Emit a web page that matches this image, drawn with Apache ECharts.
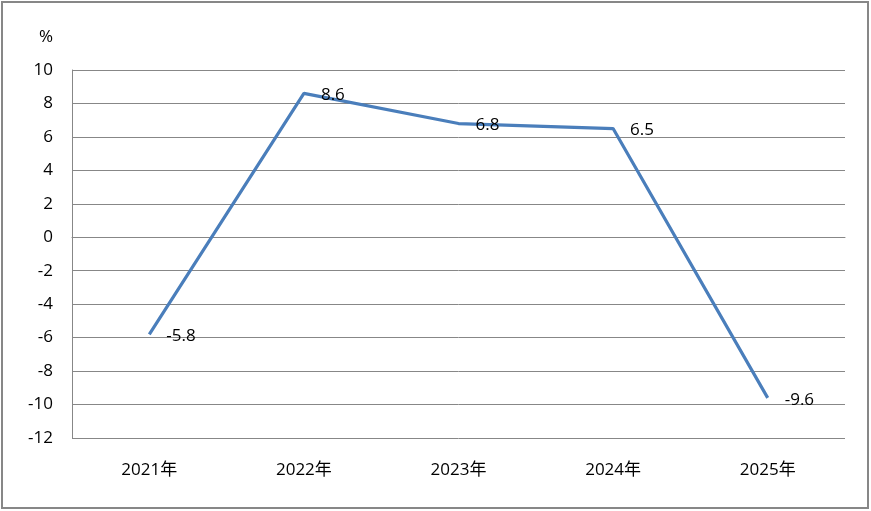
<!DOCTYPE html>
<html>
<head>
<meta charset="utf-8">
<script src="https://cdn.jsdelivr.net/npm/echarts@6/dist/echarts.min.js"></script>
<style>
html,body{margin:0;padding:0;background:#fff;}
#c{width:871px;height:511px;}
</style>
</head>
<body>
<div id="c"></div>
<script>
var categories = ['2021年', '2022年', '2023年', '2024年', '2025年'];
var values = [-5.8, 8.6, 6.8, 6.5, -9.6];
var yMin = -12, yMax = 10, yStep = 2;
var unitLabel = '%';

var chart = echarts.init(document.getElementById('c'), null, {renderer: 'canvas'});
var font = '"Open Sans", "Noto Sans CJK SC", sans-serif';
chart.setOption({
  animation: false,
  backgroundColor: '#fff',
  graphic: [{
    type: 'rect',
    shape: {x: 2, y: 2, width: 866, height: 506},
    style: {fill: 'none', stroke: '#878787', lineWidth: 2},
    silent: true
  }],
  grid: {left: 72, right: 26, top: 70, bottom: 73, containLabel: false},
  xAxis: {
    type: 'category',
    data: categories,
    boundaryGap: true,
    axisLine: {show: true, lineStyle: {color: '#878787', width: 1}},
    axisTick: {show: false},
    axisLabel: {color: '#000', fontSize: 17, fontFamily: font, margin: 24}
  },
  yAxis: {
    type: 'value',
    min: yMin, max: yMax, interval: yStep,
    name: unitLabel,
    nameLocation: 'end',
    nameGap: 24,
    nameTextStyle: {color: '#000', fontSize: 17, fontFamily: font, align: 'right', padding: [0, 19, 0, 0]},
    axisLine: {show: true, lineStyle: {color: '#878787', width: 1}},
    axisTick: {show: false},
    splitLine: {show: true, lineStyle: {color: '#878787', width: 1}},
    axisLabel: {color: '#000', fontSize: 17, fontFamily: font, margin: 19}
  },
  series: [{
    type: 'line',
    data: values,
    showSymbol: true,
    symbol: 'circle',
    symbolSize: 0.01,
    lineStyle: {color: '#4a7ebb', width: 3.2},
    itemStyle: {color: '#4a7ebb'},
    label: {
      show: true,
      position: 'right',
      distance: 17,
      offset: [0, 2],
      color: '#000',
      fontSize: 17,
      fontFamily: font
    }
  }]
});
</script>
</body>
</html>
